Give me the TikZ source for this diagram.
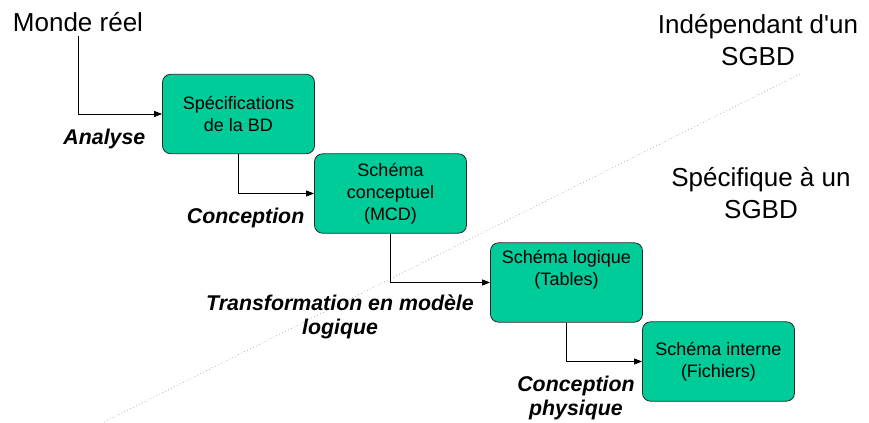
\documentclass[tikz,border=0pt]{standalone}
\usepackage{fontspec}
\setmainfont{Liberation Sans}
\usetikzlibrary{arrows.meta}

\definecolor{vertbd}{RGB}{0,204,153}

\tikzset{
    etape/.style={draw=black!85, fill=vertbd, rounded corners=6pt, line width=0.6pt,
        minimum width=114pt, minimum height=59.5pt, align=center,
        font=\fontsize{13.5}{16.5}\selectfont},
    grand/.style={align=center, font=\fontsize{19.5}{24}\selectfont},
    action/.style={align=center, font=\fontsize{16}{17.5}\selectfont\bfseries\itshape},
    fleche/.style={line width=0.6pt, -{Triangle[length=6pt,width=4.5pt]}},
    separation/.style={gray, dotted, line width=0.45pt}
}

\begin{document}
\begin{tikzpicture}[x=0.75pt,y=-0.75pt]
    \useasboundingbox (0,0) rectangle (869,423);

    \coordinate (sepA) at (104,422);
    \coordinate (sepB) at (802,73);
    \draw[separation] (sepA) -- (sepB);

    \node[grand] (monde) at (78,22) {Monde réel};
    \node[grand] (indep) at (758,40) {Indépendant d\textquotesingle un\\SGBD};
    \node[grand] (specif) at (761,193) {Spécifique à un\\SGBD};

    \node[etape] (specbd) at (238.5,114) {Spécifications\\de la BD};
    \node[etape] (mcd) at (390.5,193.5) {Schéma\\conceptuel\\(MCD)};
    \node[etape] (logique) at (566.5,282.5) {Schéma logique\\(Tables)\\\strut};
    \node[etape] (interne) at (718.5,361.5) {Schéma interne\\(Fichiers)};

    \draw[fleche] (monde.south) |- (specbd.west);
    \draw[fleche] (specbd.south) |- (mcd.west);
    \draw[fleche] (mcd.south) |- (logique.west);
    \draw[fleche] (logique.south) |- (interne.west);

    \node[action, anchor=east] (analyse) at (150,139) {Analyse};
    \node[action, anchor=east] (concep) at (309,218) {Conception};
    \node[action] (transfo) at (340,317) {Transformation en modèle\\logique};
    \node[action] (physique) at (576,398) {Conception\\physique};
\end{tikzpicture}
\end{document}
